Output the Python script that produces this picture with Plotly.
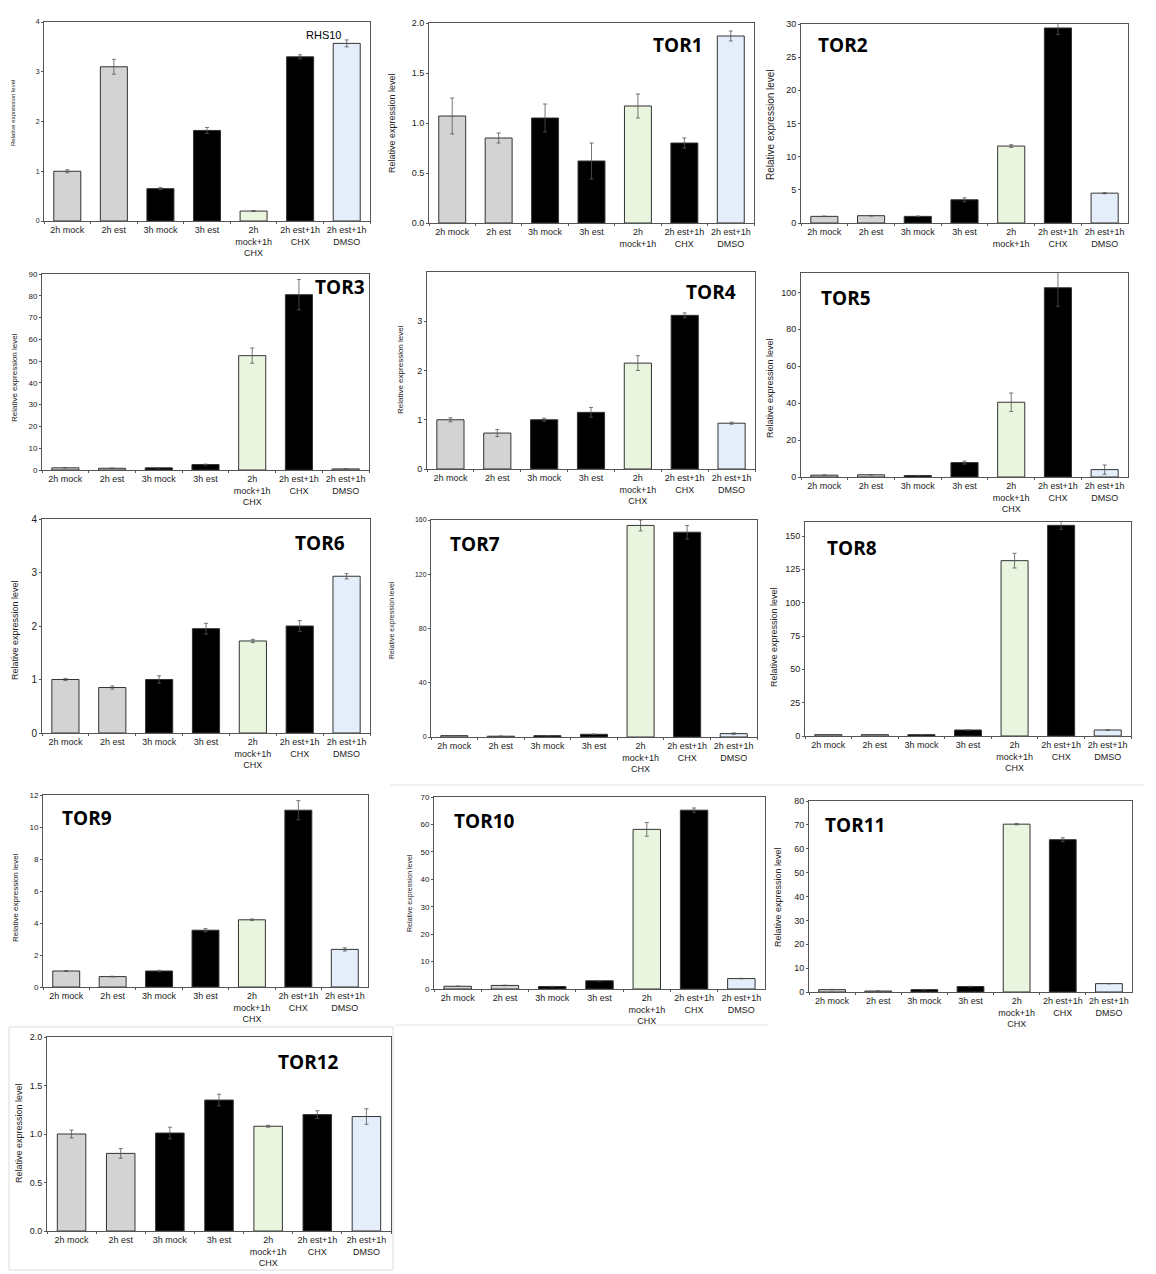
import plotly.graph_objects as go

# page body has an 8px margin, so the figure is drawn 8px smaller and shifted
OFF = 8
W, H = 1156 - OFF, 1274 - OFF

categories = ['2h mock', '2h est', '3h mock', '3h est',
              '2h<br>mock+1h<br>CHX', '2h est+1h<br>CHX', '2h est+1h<br>DMSO']
labels_cut = ['2h mock', '2h est', '3h mock', '3h est',
              '2h<br>mock+1h', '2h est+1h<br>CHX', '2h est+1h<br>DMSO']
bar_colors = ['#d3d3d3', '#d3d3d3', '#000000', '#000000', '#e9f5df', '#000000', '#e3eefa']

rhs10 = [1.0, 3.1, 0.65, 1.82, 0.2, 3.3, 3.57]
rhs10_err = [0.03, 0.15, 0.02, 0.06, 0.01, 0.04, 0.07]
tor1 = [1.07, 0.85, 1.05, 0.62, 1.17, 0.80, 1.87]
tor1_err = [0.18, 0.05, 0.14, 0.18, 0.12, 0.05, 0.05]
tor2 = [1.0, 1.1, 1.0, 3.5, 11.6, 29.4, 4.5]
tor2_err = [0.05, 0.05, 0.05, 0.3, 0.2, 1.0, 0.1]
tor3 = [1.0, 0.8, 1.0, 2.5, 52.5, 80.5, 0.5]
tor3_err = [0.1, 0.1, 0.1, 0.2, 3.5, 7.0, 0.1]
tor4 = [1.0, 0.73, 1.0, 1.15, 2.15, 3.12, 0.93]
tor4_err = [0.04, 0.07, 0.03, 0.1, 0.15, 0.05, 0.02]
tor5 = [1.0, 1.2, 0.8, 7.8, 40.5, 102.5, 4.0]
tor5_err = [0.1, 0.1, 0.1, 0.8, 5.0, 10.0, 2.5]
tor6 = [1.0, 0.85, 1.0, 1.95, 1.72, 2.0, 2.93]
tor6_err = [0.02, 0.03, 0.07, 0.1, 0.03, 0.1, 0.05]
tor7 = [1.0, 0.6, 1.0, 2.0, 156.0, 151.0, 2.5]
tor7_err = [0.1, 0.1, 0.1, 0.2, 4.0, 5.0, 0.5]
tor8 = [1.0, 1.0, 1.0, 4.5, 131.5, 158.0, 4.5]
tor8_err = [0.1, 0.1, 0.1, 0.2, 5.5, 3.0, 0.3]
tor9 = [1.0, 0.65, 1.0, 3.55, 4.2, 11.05, 2.35]
tor9_err = [0.03, 0.02, 0.04, 0.1, 0.05, 0.6, 0.1]
tor10 = [1.0, 1.3, 0.9, 3.0, 58.2, 65.2, 3.8]
tor10_err = [0.1, 0.1, 0.1, 0.1, 2.5, 0.8, 0.1]
tor11 = [1.0, 0.4, 1.0, 2.3, 70.3, 63.8, 3.5]
tor11_err = [0.1, 0.1, 0.1, 0.1, 0.3, 0.8, 0.1]
tor12 = [1.0, 0.80, 1.01, 1.35, 1.08, 1.20, 1.18]
tor12_err = [0.04, 0.05, 0.06, 0.06, 0.01, 0.04, 0.08]

# name, values, errors, ymax, dtick, tickformat, plot box (x0, x1, y0, y1 px),
# title pos, title bold, ylabel pos, ylabel size, tick size, xlabels
panels = [
    ('RHS10', rhs10, rhs10_err, 4, 1, '', (44, 370, 22, 221), (323, 35), False, (13, 113), 6, 7, categories),
    ('TOR1', tor1, tor1_err, 2, 0.5, '.1f', (429, 754, 23, 223), (678, 45), True, (392, 123), 9, 9, labels_cut),
    ('TOR2', tor2, tor2_err, 30, 5, '', (801, 1128, 24, 223), (843, 45), True, (770, 125), 10, 9, labels_cut),
    ('TOR3', tor3, tor3_err, 90, 10, '', (42, 369, 274, 470), (340, 287), True, (14, 378), 8, 8, categories),
    ('TOR4', tor4, tor4_err, 4, 1, '', (427, 755, 272, 469), (711, 292), True, (400, 370), 8, 9, categories),
    ('TOR5', tor5, tor5_err, 110.5, 20, '', (801, 1128, 273, 477), (846, 298), True, (770, 388), 9, 9, categories),
    ('TOR6', tor6, tor6_err, 4, 1, '', (42, 370, 519, 733), (320, 543), True, (15, 630), 9, 10, categories),
    ('TOR7', tor7, tor7_err, 160, 40, '', (431, 757, 520, 737), (475, 544), True, (392, 620), 7, 7, categories),
    ('TOR8', tor8, tor8_err, 160.5, 25, '', (805, 1131, 522, 736), (852, 548), True, (774, 637), 9, 9, categories),
    ('TOR9', tor9, tor9_err, 12, 2, '', (43, 368, 795, 987), (87, 818), True, (15, 898), 8, 8, categories),
    ('TOR10', tor10, tor10_err, 70, 10, '', (434, 765, 797, 989), (485, 821), True, (410, 893), 7, 8, categories),
    ('TOR11', tor11, tor11_err, 80, 10, '', (809, 1132, 801, 992), (855, 825), True, (778, 897), 9, 9, categories),
    ('TOR12', tor12, tor12_err, 2, 0.5, '.1f', (47, 391, 1037, 1231), (308, 1062), True, (19, 1133), 9, 9, categories),
]


def px(x):
    return (x - OFF) / W


def py(y):
    return 1 - (y - OFF) / H


fig = go.Figure()
annotations = []
layout = {}
for i, (name, vals, errs, ymax, dtick, tfmt, box, tpos, bold, lpos, lsize, tsize, xlab) in enumerate(panels):
    n = '' if i == 0 else str(i + 1)
    x0, x1, y0, y1 = box
    fig.add_trace(go.Bar(
        x=categories, y=vals,
        error_y=dict(type='data', array=errs, color='#555555', thickness=0.8, width=2),
        marker=dict(color=bar_colors, line=dict(color='#333333', width=1)),
        width=0.58, showlegend=False,
        xaxis='x' + n, yaxis='y' + n))
    layout['xaxis' + n] = dict(
        domain=[px(x0), px(x1)], anchor='y' + n, range=[-0.5, 6.5], automargin=False,
        tickvals=categories, ticktext=xlab, tickangle=0,
        showline=True, mirror=True, linecolor='#555555', linewidth=1,
        ticks='outside', ticklen=2, tickson='boundaries', tickcolor='#555555',
        showgrid=False, tickfont=dict(size=9, color='#222222'))
    layout['yaxis' + n] = dict(
        domain=[py(y1), py(y0)], anchor='x' + n, range=[0, ymax], dtick=dtick, automargin=False,
        tickformat=tfmt, showline=True, mirror=True, linecolor='#555555', linewidth=1,
        ticks='outside', ticklen=2, tickcolor='#555555', showgrid=False, zeroline=False,
        tickfont=dict(size=tsize, color='#222222'))
    if name == 'TOR4':
        layout['yaxis' + n]['tickvals'] = [0, 1, 2, 3]
    annotations.append(dict(
        x=px(tpos[0]), y=py(tpos[1]), xref='paper', yref='paper', showarrow=False,
        xanchor='center', yanchor='middle',
        text='<b>%s</b>' % name if bold else name,
        font=dict(size=19 if bold else 11, color='#000000',
                  family='Open Sans' if bold else 'Liberation Sans')))
    annotations.append(dict(
        x=px(lpos[0]), y=py(lpos[1]), xref='paper', yref='paper', showarrow=False,
        xanchor='center', yanchor='middle',
        text='Relative expression level', textangle=-90,
        font=dict(size=lsize, color='#222222')))

shapes = [
    dict(type='rect', xref='paper', yref='paper', x0=px(9), x1=px(393), y0=py(1270), y1=py(1027),
         line=dict(color='#dddddd', width=1)),
    dict(type='line', xref='paper', yref='paper', x0=px(390), x1=px(1145), y0=py(785), y1=py(785),
         line=dict(color='#e6e6e6', width=1)),
    dict(type='line', xref='paper', yref='paper', x0=px(395), x1=px(768), y0=py(1025), y1=py(1025),
         line=dict(color='#e6e6e6', width=1)),
]

fig.update_layout(
    width=W, height=H, margin=dict(l=0, r=0, t=0, b=0, autoexpand=False),
    paper_bgcolor='white', plot_bgcolor='white',
    font=dict(family='Liberation Sans', size=9, color='#222222'),
    bargap=0.4, annotations=annotations, shapes=shapes, **layout)

fig.write_html('out.html')
